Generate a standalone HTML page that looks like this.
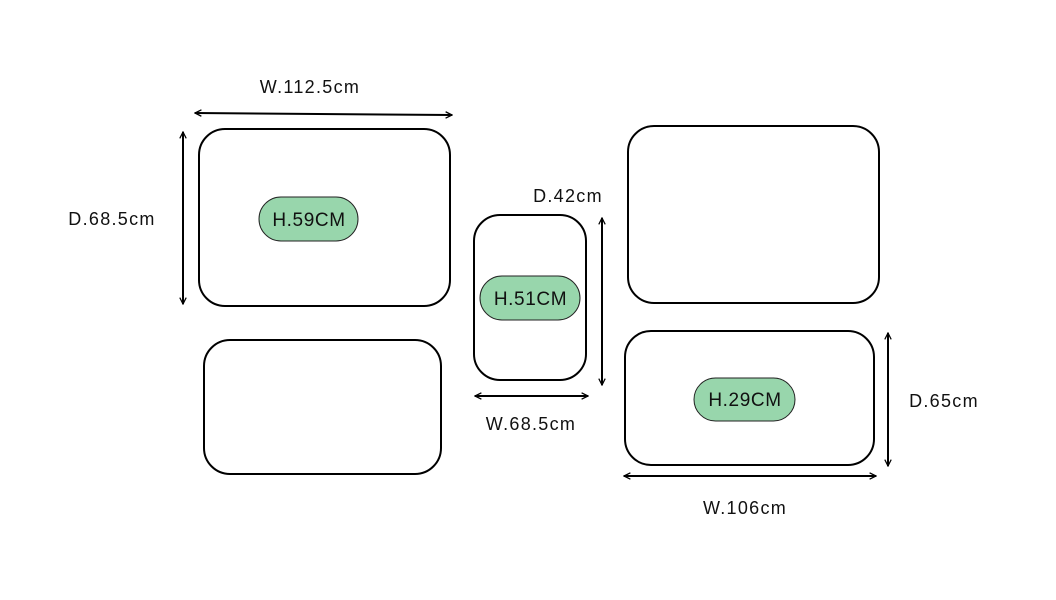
<!DOCTYPE html>
<html><head><meta charset="utf-8"><style>html,body{margin:0;padding:0;background:#fff}svg{display:block}</style></head>
<body>
<svg width="1056" height="600" viewBox="0 0 1056 600" xmlns="http://www.w3.org/2000/svg">
<defs>
<marker id="a" viewBox="0 0 10 10" refX="9" refY="5" markerWidth="8" markerHeight="8" orient="auto-start-reverse" markerUnits="userSpaceOnUse">
<path d="M1,1 L9,5 L1,9" fill="none" stroke="#000" stroke-width="1.6"/>
</marker>
</defs>
<g fill="none" stroke="#000" stroke-width="2">
<rect x="199" y="129" width="251" height="177" rx="26"/>
<rect x="204" y="340" width="237" height="134" rx="26"/>
<rect x="474" y="215" width="112" height="165" rx="26"/>
<rect x="628" y="126" width="251" height="177" rx="26"/>
<rect x="625" y="331" width="249" height="134" rx="26"/>
</g>
<g fill="#98d6ac" stroke="#222" stroke-width="1">
<rect x="259" y="197" width="99" height="44" rx="22"/>
<rect x="480" y="276" width="100" height="44" rx="22"/>
<rect x="694" y="378" width="101" height="43" rx="21.5"/>
</g>
<g stroke="#000" stroke-width="2" marker-start="url(#a)" marker-end="url(#a)">
<line x1="195" y1="113" x2="452" y2="115"/>
<line x1="183" y1="132" x2="183" y2="304"/>
<line x1="602" y1="218" x2="602" y2="385"/>
<line x1="475" y1="396" x2="588" y2="396"/>
<line x1="888" y1="333" x2="888" y2="466"/>
<line x1="624" y1="476" x2="876" y2="476"/>
</g>
<g font-family="Liberation Sans, sans-serif" font-size="18" fill="#111" letter-spacing="1.3">
<text x="310" y="93" text-anchor="middle">W.112.5cm</text>
<text x="112" y="225" text-anchor="middle">D.68.5cm</text>
<text x="568" y="202" text-anchor="middle">D.42cm</text>
<text x="531" y="430" text-anchor="middle">W.68.5cm</text>
<text x="944" y="407" text-anchor="middle">D.65cm</text>
<text x="745" y="514" text-anchor="middle">W.106cm</text>
</g>
<g font-family="Liberation Sans, sans-serif" font-size="19" fill="#111" letter-spacing="0.6">
<text x="309" y="226" text-anchor="middle">H.59CM</text>
<text x="530.5" y="305" text-anchor="middle">H.51CM</text>
<text x="745" y="406" text-anchor="middle">H.29CM</text>
</g>
</svg>
</body></html>
